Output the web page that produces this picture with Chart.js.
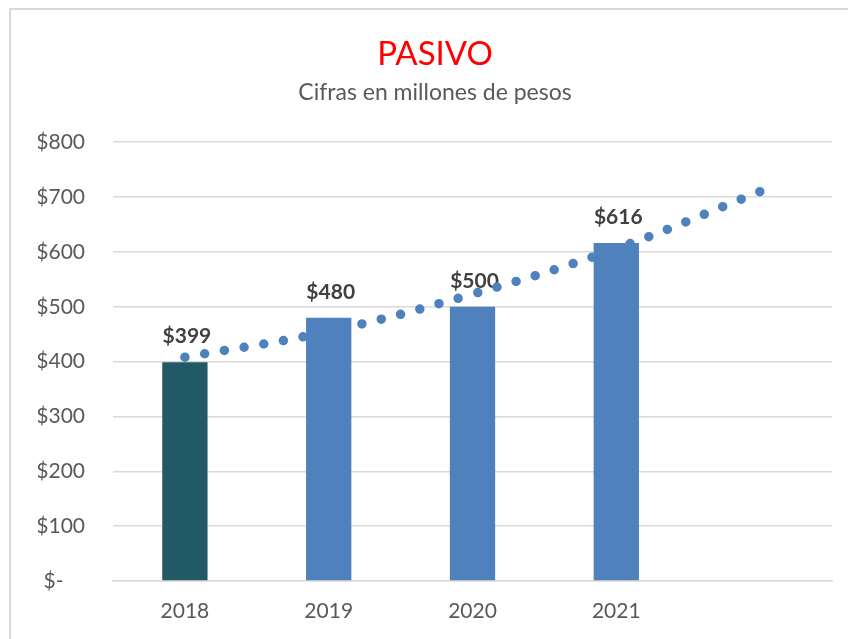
<!DOCTYPE html>
<html>
<head>
<meta charset="utf-8">
<style>
  html, body { margin: 0; padding: 0; background: #ffffff; }
  #wrap { position: relative; width: 848px; height: 639px; }
</style>
<script src="https://cdn.jsdelivr.net/npm/chart.js@4/dist/chart.umd.min.js"></script>
</head>
<body>
<div id="wrap"><canvas id="c" width="848" height="639"></canvas></div>
<script>
// ---- data ----
const categories = ['2018', '2019', '2020', '2021', ''];
const pasivoValues = [399, 480, 500, 616, null];
const trendValues = [408, 455, 523, 606, 710];
const barColors = ['#215967', '#4F81BD', '#4F81BD', '#4F81BD', '#4F81BD'];
const yTicks = [0, 100, 200, 300, 400, 500, 600, 700, 800];

const FONT = 'Lato, "Liberation Sans", sans-serif';

const frame = {
  id: 'frame',
  beforeDraw(chart) {
    const ctx = chart.ctx;
    ctx.save();
    ctx.fillStyle = '#ffffff';
    ctx.fillRect(0, 0, chart.width, chart.height);
    ctx.strokeStyle = '#d9d9d9';
    ctx.lineWidth = 2;
    ctx.beginPath();
    ctx.moveTo(10, chart.height);
    ctx.lineTo(10, 9);
    ctx.lineTo(chart.width, 9);
    ctx.stroke();
    ctx.restore();
  }
};

const valueLabels = {
  id: 'valueLabels',
  beforeDatasetsDraw(chart) {
    const ctx = chart.ctx;
    const meta = chart.getDatasetMeta(0);
    ctx.save();
    ctx.font = 'bold 21px ' + FONT;
    ctx.fillStyle = '#404040';
    ctx.textAlign = 'center';
    ctx.textBaseline = 'alphabetic';
    meta.data.forEach((bar, i) => {
      const v = pasivoValues[i];
      if (v == null) return;
      ctx.fillText('$' + v, bar.x + 2, bar.y - 19);
    });
    ctx.restore();
  }
};

new Chart(document.getElementById('c'), {
  data: {
    labels: categories,
    datasets: [
      {
        type: 'bar',
        label: 'Pasivo',
        data: pasivoValues,
        backgroundColor: barColors,
        categoryPercentage: 1,
        barPercentage: 0.315,
        order: 2
      },
      {
        type: 'line',
        label: 'Tendencia',
        data: trendValues,
        borderColor: '#4F81BD',
        borderWidth: 9.5,
        borderDash: [0, 20],
        borderCapStyle: 'round',
        pointRadius: 0,
        tension: 0.4,
        fill: false,
        order: 1
      }
    ]
  },
  options: {
    responsive: false,
    animation: false,
    layout: { padding: { top: 0, right: 16, bottom: 0, left: 38 } },
    plugins: {
      legend: { display: false },
      tooltip: { enabled: false },
      title: {
        display: true,
        text: 'PASIVO',
        color: '#ff0000',
        font: { family: FONT, size: 33, weight: 'normal', lineHeight: 1.2 },
        padding: { top: 35, bottom: 0 }
      },
      subtitle: {
        display: true,
        text: 'Cifras en millones de pesos',
        color: '#595959',
        font: { family: FONT, size: 23, weight: 'normal', lineHeight: 1.2 },
        padding: { top: 4, bottom: 36 }
      }
    },
    scales: {
      x: {
        grid: { display: false, drawTicks: false },
        border: { display: true, color: '#d9d9d9', width: 1.5 },
        ticks: {
          color: '#595959',
          font: { family: FONT, size: 21 },
          padding: 18,
          maxRotation: 0,
          autoSkip: false
        },
        afterFit(scale) { scale.height = 58; }
      },
      y: {
        min: 0,
        max: 800,
        afterBuildTicks(scale) { scale.ticks = yTicks.map(v => ({ value: v })); },
        grid: { color: '#d9d9d9', lineWidth: 1.5, drawTicks: false },
        border: { display: false },
        ticks: {
          color: '#595959',
          font: { family: FONT, size: 21 },
          padding: 28,
          callback: (v) => v === 0 ? '$-    ' : '$' + v
        },
        afterFit(scale) { scale.width = 75; }
      }
    }
  },
  plugins: [frame, valueLabels]
});
</script>
</body>
</html>
